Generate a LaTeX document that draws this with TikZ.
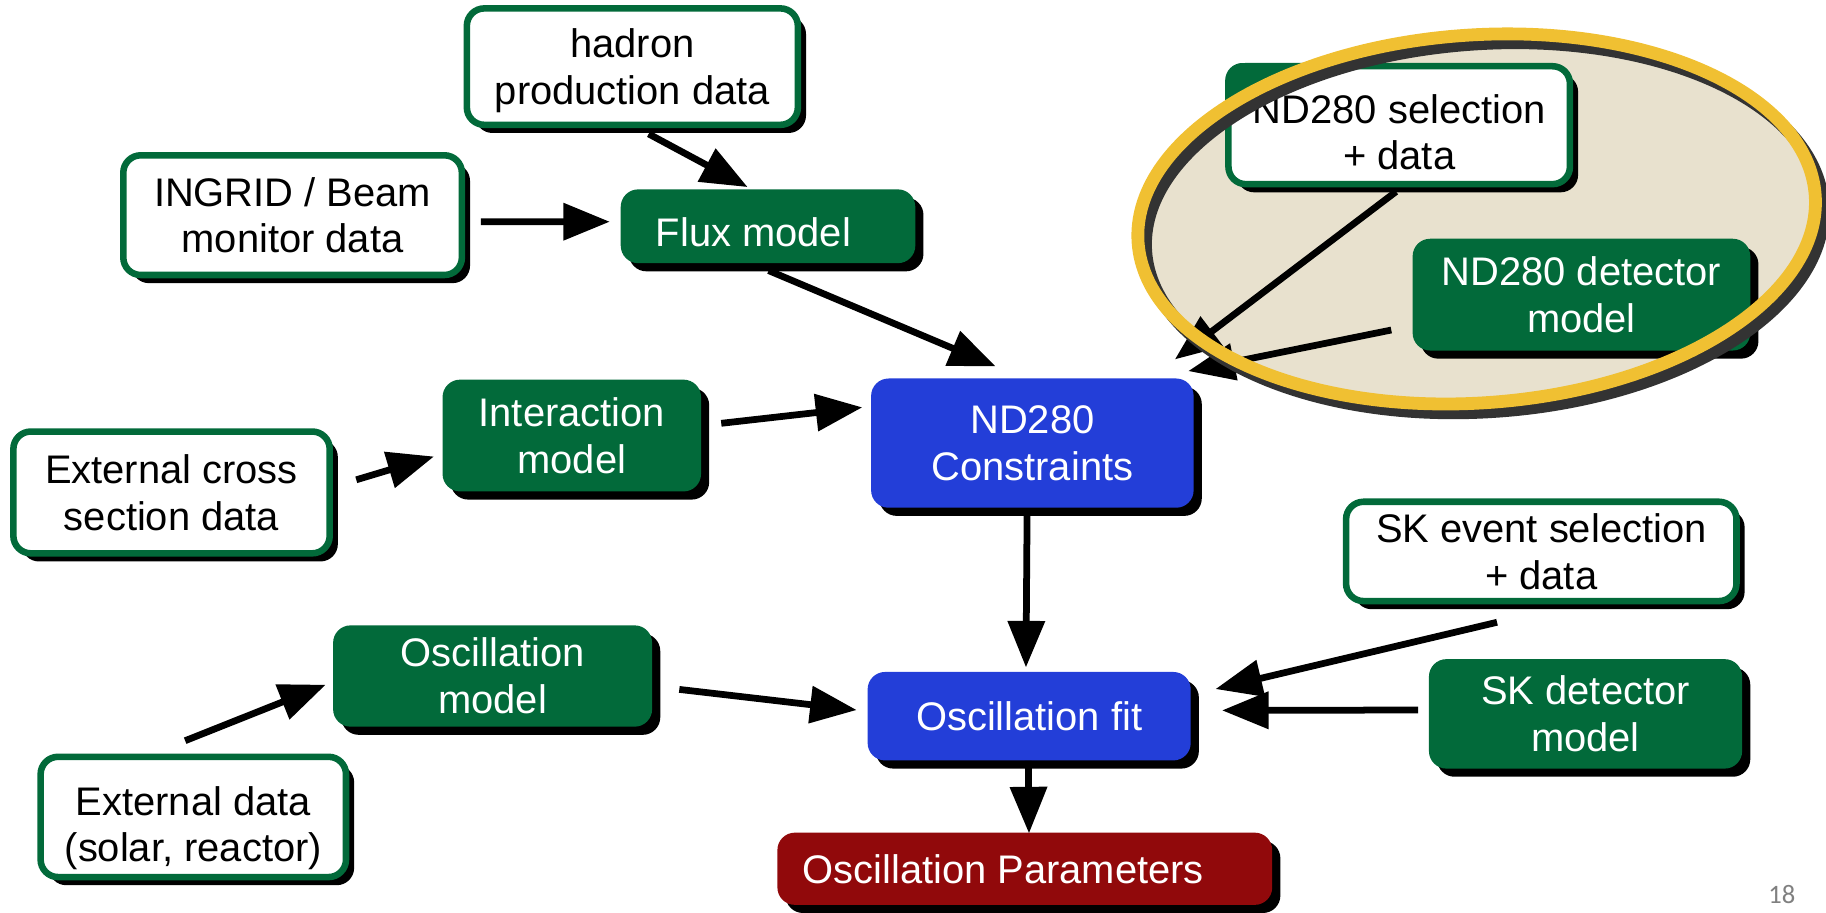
\documentclass[tikz,border=0pt]{standalone}
\usepackage{fontspec}
\setmainfont{Liberation Sans}
\newfontfamily\pagefont{Carlito}
\usetikzlibrary{shadows,arrows.meta,calc}
\definecolor{tgreen}{RGB}{2,106,58}
\definecolor{tblue}{RGB}{35,62,216}
\definecolor{tred}{RGB}{145,9,11}
\definecolor{tbeige}{RGB}{232,225,206}
\definecolor{tgold}{RGB}{240,192,50}
\definecolor{tdark}{RGB}{51,51,51}
\tikzset{
  base/.style={rounded corners=0.3cm, align=center, font=\fontsize{19.5}{22.8}\selectfont, inner sep=0pt,
    drop shadow={shadow xshift=0.14cm, shadow yshift=-0.14cm, fill=black, opacity=1}},
  databox/.style={base, fill=white, draw=tgreen, line width=3.2pt, text=black},
  modelbox/.style={base, fill=tgreen, text=white},
  corebox/.style={base, fill=tblue, text=white},
  resultbox/.style={base, fill=tred, text=white},
  arr/.style={line width=3.3pt, -{Triangle[length=0.8cm,width=0.62cm]}},
  ring/.style={line width=0.22cm, rotate around={4:(1268,188)}},
}
\begin{document}
\begin{tikzpicture}[x=0.02cm,y=-0.02cm]
\useasboundingbox (0,0) rectangle (1568,784);
% highlighted ellipse background
\fill[tbeige, ring] (1268,188) ellipse [x radius=5.83cm, y radius=3.16cm];
% nodes
\node[databox, minimum width=5.686cm, minimum height=2.0cm] (hadron) at (543,57.2) {hadron\\\smash{production data}};
\node[databox, minimum width=5.816cm, minimum height=2.056cm] (ingrid) at (251.25,184.75) {INGRID / Beam\\monitor data};
\node[modelbox, minimum width=5.06cm, minimum height=1.268cm, text height=20pt] (flux) at (659.5,194.3) {Flux model\hspace*{0.5cm}};
\node[modelbox, minimum width=4.44cm, minimum height=1.92cm] (inter) at (491,374) {Interaction\\model};
\node[databox, minimum width=5.434cm, minimum height=2.092cm] (xsec) at (147.3,422.85) {External cross\\section data};
\node[corebox, minimum width=5.54cm, minimum height=2.22cm] (nd) at (886.5,380.5) {ND280\\Constraints};
\node[databox, minimum width=5.866cm, minimum height=2.026cm, text height=43.8pt] (sel) at (1201.5,107.5) {ND280 selection\\+ data};
\node[modelbox, minimum width=5.8cm, minimum height=1.92cm] (det) at (1358,253) {ND280 detector\\model};
\node[databox, minimum width=6.706cm, minimum height=1.706cm] (skev) at (1323.5,473.5) {SK event selection\\+ data};
\node[modelbox, minimum width=5.38cm, minimum height=1.88cm] (skdet) at (1361.5,613) {SK detector\\model};
\node[modelbox, minimum width=5.48cm, minimum height=1.74cm] (osc) at (423,580.5) {Oscillation\\model};
\node[corebox, minimum width=5.55cm, minimum height=1.52cm] (fit) at (883.75,615) {Oscillation fit};
\node[databox, minimum width=5.246cm, minimum height=2.066cm, text height=43.8pt] (ext) at (166,701.5) {External data\\\smash{(solar, reactor)}};
\node[resultbox, minimum width=8.5cm, minimum height=1.24cm] (par) at (880,746) {Oscillation Parameters\hspace*{0.74cm}};
% part of the selection box outside the ellipse shows green
\begin{scope}
  \clip[rounded corners=0.3cm] (sel.south west) rectangle (sel.north east);
  \begin{scope}[even odd rule]
    \clip (sel.south west) rectangle (sel.north east)
       [rotate around={4:(1268,188)}] (1268,188) ellipse [x radius=5.83cm, y radius=3.16cm];
    \fill[tgreen] (sel.south west) rectangle (sel.north east);
  \end{scope}
\end{scope}
% connectors
\draw[arr] ($(hadron.south)+(14,5)$) -- ($(flux.north)+(-17.5,-1.6)$);
\draw[arr] ($(ingrid.east)+(13.5,5.6)$) -- ($(flux.west)+(-9,-3.9)$);
\draw[arr] ($(flux.south)+(0.5,6)$) -- ($(nd.north)+(-31.5,-10)$);
\draw[arr] ($(inter.east)+(17,-10.5)$) -- ($(nd.west)+(-7.2,-30.7)$);
\draw[arr] ($(xsec.east)+(20,-10.85)$) -- ($(inter.west)+(-7,18)$);
\draw[arr] ($(sel.south)+(-2.7,3.6)$) -- ($(nd.north east)+(-16.5,-16)$);
\draw[arr] ($(det.west)+(-18,30.4)$) -- ($(nd.north east)+(-5,-6)$);
\draw[arr] ($(nd.south)+(-4.5,0)$) -- ($(fit.north)+(-2.75,-3.5)$);
\draw[arr] ($(skev.south)+(-38,15.4)$) -- ($(fit.east)+(20.9,-23.3)$);
\draw[arr] ($(skdet.west)+(-9,-3.3)$) -- ($(fit.east)+(26.5,-5)$);
\draw[arr] ($(osc.east)+(23,11.5)$) -- ($(fit.west)+(-9,-5.3)$);
\draw[arr] ($(ext.north)+(-7,-11)$) -- ($(osc.west)+(-6,7.5)$);
\draw[arr] ($(fit.south)+(-0.75,0)$) -- ($(par.north)+(3.6,1)$);
% ellipse ring with its shadow, drawn over boxes and connectors
\draw[tdark, ring] (1274,196) ellipse [x radius=5.83cm, y radius=3.16cm];
\draw[tgold, ring] (1268,188) ellipse [x radius=5.83cm, y radius=3.16cm];
% page number
\node[text=gray, font=\pagefont\fontsize{13}{15}\selectfont] (pg) at (1530,768) {18};
\end{tikzpicture}
\end{document}
